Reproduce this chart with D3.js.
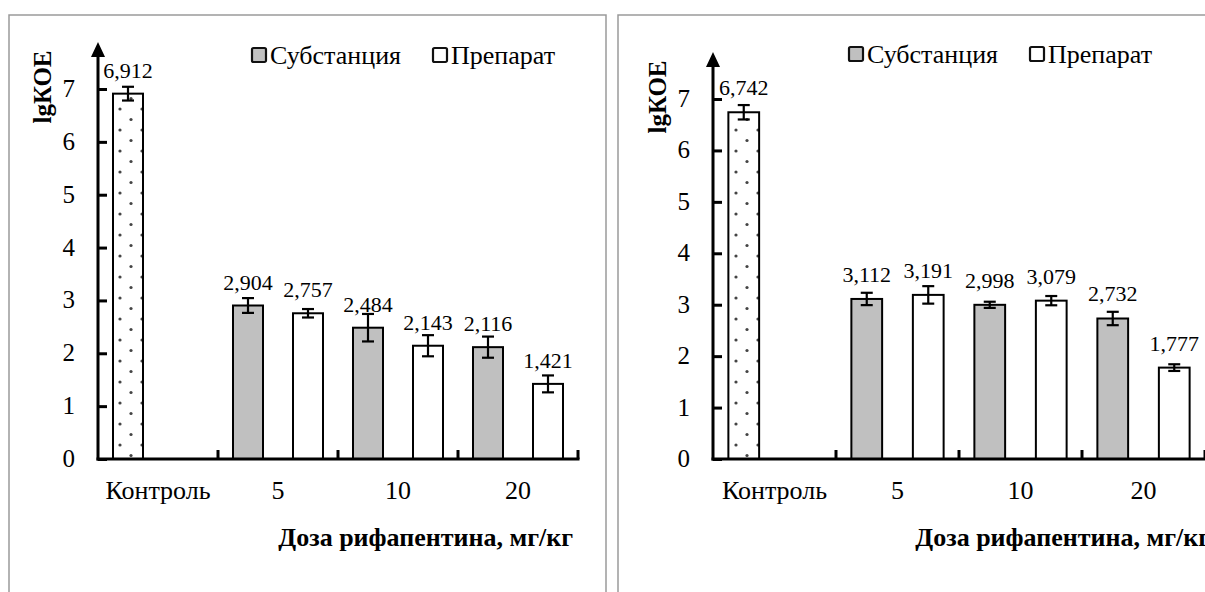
<!DOCTYPE html>
<html>
<head>
<meta charset="utf-8">
<script src="https://cdn.jsdelivr.net/npm/d3@7"></script>
<style>
    html, body { margin: 0; padding: 0; background: #fff; }
    svg { display: block; font-family: "Liberation Serif", "Times New Roman", serif; }
</style>
</head>
<body>
<svg id="chart" width="1205" height="592"></svg>
<script>
// categories and series
var categories = ['Контроль', '5', '10', '20'];
var doses = ['5', '10', '20'];
var seriesNames = ['Субстанция', 'Препарат'];
var yTicks = [0, 1, 2, 3, 4, 5, 6, 7];

// control bars (left, right) and their error
var controlValues = [6.912, 6.742];
var controlErrors = [0.13, 0.14];

// left chart
var substLeft = [2.904, 2.484, 2.116];
var substLeftErr = [0.14, 0.26, 0.20];
var prepLeft = [2.757, 2.143, 1.421];
var prepLeftErr = [0.08, 0.20, 0.16];

// right chart
var substRight = [3.112, 2.998, 2.732];
var substRightErr = [0.12, 0.06, 0.13];
var prepRight = [3.191, 3.079, 1.777];
var prepRightErr = [0.17, 0.09, 0.065];

var GRAY = '#c0c0c0';

var svg = d3.select('#chart');

// dotted fill of the control bar
var defs = svg.append('defs');
var pat = defs.append('pattern')
    .attr('id', 'dots')
    .attr('patternUnits', 'userSpaceOnUse')
    .attr('patternTransform', 'translate(6,0)')
    .attr('width', 22)
    .attr('height', 21);
pat.append('rect').attr('width', 22).attr('height', 21).attr('fill', '#fff');
pat.append('circle').attr('cx', 4).attr('cy', 4).attr('r', 1.6).attr('fill', '#444');
pat.append('circle').attr('cx', 15).attr('cy', 14.5).attr('r', 1.6).attr('fill', '#444');

function panel(p) {
    var g = svg.append('g');

    // frame
    g.append('path')
        .attr('d', 'M' + p.frame[0] + ',600 V' + p.frame[1] + ' H' + p.frame[2] + ' V600')
        .attr('fill', 'none')
        .attr('stroke', '#9a9a9a')
        .attr('stroke-width', 1.5);

    var x = d3.scaleBand()
        .domain(categories)
        .range([p.left, p.right])
        .paddingInner(0)
        .paddingOuter(0);
    var xSub = d3.scaleBand()
        .domain(seriesNames)
        .range([0, x.bandwidth()])
        .paddingInner(0.5)
        .paddingOuter(0.25);
    var y = d3.scaleLinear()
        .domain([0, 7])
        .range([p.zero, p.top7]);

    var bars = [{cat: categories[0], ser: seriesNames[0], v: p.control, e: p.controlErr, fill: 'url(#dots)'}];
    doses.forEach(function (d, i) {
        bars.push({cat: d, ser: seriesNames[0], v: p.subst[i], e: p.substErr[i], fill: GRAY});
        bars.push({cat: d, ser: seriesNames[1], v: p.prep[i], e: p.prepErr[i], fill: '#fff'});
    });

    function cx(d) { return x(d.cat) + xSub(d.ser) + xSub.bandwidth() / 2; }

    g.selectAll('rect.bar')
        .data(bars).enter()
        .append('rect')
        .attr('class', 'bar')
        .attr('x', function (d) { return x(d.cat) + xSub(d.ser); })
        .attr('y', function (d) { return y(d.v); })
        .attr('width', xSub.bandwidth())
        .attr('height', function (d) { return y(0) - y(d.v); })
        .attr('fill', function (d) { return d.fill; })
        .attr('stroke', '#000')
        .attr('stroke-width', 2);

    // error bars
    var err = g.selectAll('g.err')
        .data(bars).enter()
        .append('g')
        .attr('stroke', '#000')
        .attr('stroke-width', 2.2);
    err.append('line')
        .attr('x1', cx).attr('x2', cx)
        .attr('y1', function (d) { return y(d.v + d.e); })
        .attr('y2', function (d) { return y(d.v - d.e); });
    err.append('line')
        .attr('x1', function (d) { return cx(d) - 6; })
        .attr('x2', function (d) { return cx(d) + 6; })
        .attr('y1', function (d) { return y(d.v + d.e); })
        .attr('y2', function (d) { return y(d.v + d.e); });
    err.append('line')
        .attr('x1', function (d) { return cx(d) - 6; })
        .attr('x2', function (d) { return cx(d) + 6; })
        .attr('y1', function (d) { return y(d.v - d.e); })
        .attr('y2', function (d) { return y(d.v - d.e); });

    // value labels
    g.selectAll('text.val')
        .data(bars).enter()
        .append('text')
        .attr('x', cx)
        .attr('y', function (d) { return y(d.v) - p.labelGap; })
        .attr('text-anchor', 'middle')
        .attr('font-size', 22)
        .attr('fill', '#000')
        .text(function (d) { return d.v.toFixed(3).replace('.', ','); });

    // y axis with arrow
    g.append('line')
        .attr('x1', p.left).attr('x2', p.left)
        .attr('y1', p.zero + 1.5).attr('y2', p.arrow + 12)
        .attr('stroke', '#000').attr('stroke-width', 3);
    g.append('path')
        .attr('d', 'M' + (p.left - 7) + ',' + (p.arrow + 15) + ' L' + p.left + ',' + p.arrow + ' L' + (p.left + 7) + ',' + (p.arrow + 15) + 'Z')
        .attr('fill', '#000');

    var yAxis = d3.axisRight(y).tickValues(yTicks).tickSize(9).tickFormat('');
    g.append('g')
        .attr('transform', 'translate(' + p.left + ',0)')
        .call(yAxis)
        .call(function (a) { a.select('.domain').remove(); })
        .selectAll('line')
        .attr('stroke', '#000')
        .attr('stroke-width', 3);

    g.selectAll('text.ytick')
        .data(yTicks).enter()
        .append('text')
        .attr('x', p.left - 23)
        .attr('y', function (d) { return y(d) + 8; })
        .attr('text-anchor', 'end')
        .attr('font-size', 25)
        .attr('fill', '#000')
        .text(function (d) { return d; });

    // x axis
    g.append('line')
        .attr('x1', p.left - 1.5).attr('x2', p.right + 1.5)
        .attr('y1', p.zero).attr('y2', p.zero)
        .attr('stroke', '#000').attr('stroke-width', 3);
    g.selectAll('line.xtick')
        .data(categories).enter()
        .append('line')
        .attr('x1', function (d) { return x(d) + x.bandwidth(); })
        .attr('x2', function (d) { return x(d) + x.bandwidth(); })
        .attr('y1', p.zero)
        .attr('y2', p.zero - 9)
        .attr('stroke', '#000').attr('stroke-width', 3);
    g.selectAll('text.xcat')
        .data(categories).enter()
        .append('text')
        .attr('x', function (d) { return x(d) + x.bandwidth() / 2; })
        .attr('y', p.zero + 40)
        .attr('text-anchor', 'middle')
        .attr('font-size', 26)
        .attr('fill', '#000')
        .text(function (d) { return d; });

    // titles
    g.append('text')
        .attr('x', p.titleEnd)
        .attr('y', 546)
        .attr('text-anchor', 'end')
        .attr('font-size', 26)
        .attr('font-weight', 'bold')
        .attr('fill', '#000')
        .text('Доза рифапентина, мг/кг');
    g.append('text')
        .attr('transform', 'translate(' + (p.left - 47) + ',' + (y(7) - 2) + ') rotate(-90)')
        .attr('text-anchor', 'middle')
        .attr('font-size', 25)
        .attr('font-weight', 'bold')
        .attr('fill', '#000')
        .text('lgКОЕ');

    // legend
    var leg = g.selectAll('g.leg')
        .data(seriesNames).enter()
        .append('g')
        .attr('transform', function (d, i) { return 'translate(' + (p.legendX + i * 181) + ',' + p.legendY + ')'; });
    leg.append('rect')
        .attr('x', 1).attr('y', -16)
        .attr('width', 14).attr('height', 14)
        .attr('rx', 1.5)
        .attr('fill', function (d, i) { return i === 0 ? GRAY : '#fff'; })
        .attr('stroke', '#111')
        .attr('stroke-width', 2.2);
    leg.append('text')
        .attr('x', 19)
        .attr('y', 0)
        .attr('font-size', 26)
        .attr('fill', '#000')
        .text(function (d) { return d; });
}

panel({
    frame: [9, 15, 606], left: 98, right: 578, zero: 459, top7: 89, arrow: 42,
    control: controlValues[0], controlErr: controlErrors[0],
    subst: substLeft, substErr: substLeftErr, prep: prepLeft, prepErr: prepLeftErr,
    labelGap: 16, titleEnd: 573, legendX: 251, legendY: 64
});
panel({
    frame: [618, 15, 1240], left: 713, right: 1205, zero: 459, top7: 99, arrow: 52,
    control: controlValues[1], controlErr: controlErrors[1],
    subst: substRight, substErr: substRightErr, prep: prepRight, prepErr: prepRightErr,
    labelGap: 17, titleEnd: 1210, legendX: 848, legendY: 63
});
</script>
</body>
</html>
